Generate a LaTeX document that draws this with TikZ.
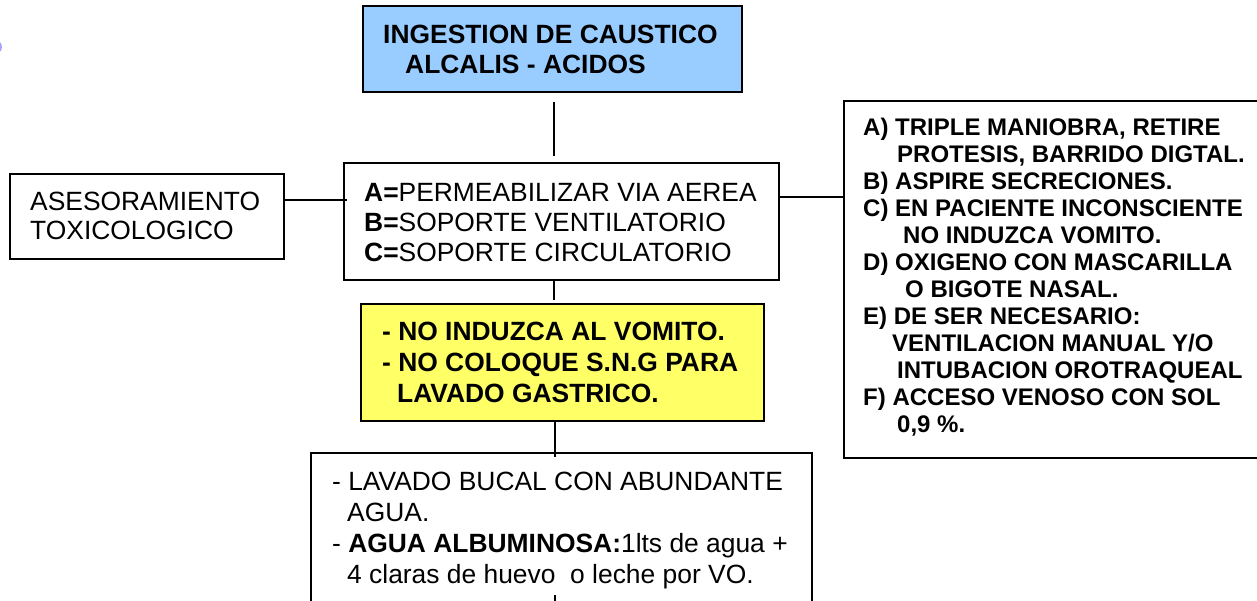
\documentclass[tikz,border=0pt]{standalone}
\usepackage{fontspec}
\setmainfont{Liberation Sans}
\usetikzlibrary{calc}
\definecolor{boxblue}{RGB}{153,204,255}
\definecolor{boxyellow}{RGB}{255,255,102}
\definecolor{markblue}{RGB}{165,165,250}
\begin{document}
\begin{tikzpicture}[x=1pt,y=-1pt,
  box/.style={draw=black, line width=1.8pt, rectangle, inner sep=0pt, anchor=north west},
  txt/.style={anchor=north west, inner sep=0pt, align=left, font=\fontsize{26.4}{30}\selectfont},
  btxt/.style={anchor=north west, inner sep=0pt, align=left, font=\fontsize{26.4}{30}\selectfont\bfseries},
  rtxt/.style={anchor=north west, inner sep=0pt, align=left, font=\fontsize{24}{27}\selectfont\bfseries},
  link/.style={draw=black, line width=1.6pt}]
\useasboundingbox (0,0) rectangle (1257,601);
\clip (0,0) rectangle (1257,601);
\fill[white] (0,0) rectangle (1257,601);
% small clipped mark at left edge
\fill[markblue] (-6,47) ellipse (8pt and 7.5pt);
% boxes
\node[box, fill=boxblue, minimum width=379pt, minimum height=86pt] (top) at (362,5) {};
\node[box, minimum width=435pt, minimum height=117pt] (abc) at (343,162) {};
\node[box, minimum width=274pt, minimum height=85pt] (left) at (9,173) {};
\node[box, fill=boxyellow, minimum width=403pt, minimum height=117pt] (yel) at (360,303) {};
\node[box, minimum width=501pt, minimum height=200pt] (bot) at (310,452) {};
\node[box, minimum width=500pt, minimum height=357pt] (right) at (843,100) {};
% texts
\node[btxt] (toptxt) at (383,25) {INGESTION DE CAUSTICO\\\hspace*{22pt}ALCALIS - ACIDOS};
\node[txt] (abctxt) at (364,183) {\textbf{A=}PERMEABILIZAR VIA AEREA\\\textbf{B=}SOPORTE VENTILATORIO\\\textbf{C=}SOPORTE CIRCULATORIO};
\node[txt, font=\fontsize{26.4}{28.5}\selectfont] (lefttxt) at (30,192) {ASESORAMIENTO\\TOXICOLOGICO};
\node[btxt, font=\fontsize{26.4}{31}\selectfont\bfseries] (yeltxt) at (382,322) {- NO INDUZCA AL VOMITO.\\- NO COLOQUE S.N.G PARA\\\hspace*{15pt}LAVADO GASTRICO.};
\node[txt, font=\fontsize{26.4}{31}\selectfont] (bottxt) at (332,472) {- LAVADO BUCAL CON ABUNDANTE\\\hspace*{15pt}AGUA.\\- \textbf{AGUA ALBUMINOSA:}1lts de agua +\\\hspace*{15pt}4 claras de huevo\ \ o leche por VO.};
\node[rtxt] (righttxt) at (863,118) {A) TRIPLE MANIOBRA, RETIRE\\
\hspace*{34pt}PROTESIS, BARRIDO DIGTAL.\\
B) ASPIRE SECRECIONES.\\
C) EN PACIENTE INCONSCIENTE\\
\hspace*{40pt}NO INDUZCA VOMITO.\\
D) OXIGENO CON MASCARILLA\\
\hspace*{42pt}O BIGOTE NASAL.\\
E) DE SER NECESARIO:\\
\hspace*{29pt}VENTILACION MANUAL Y/O\\
\hspace*{34pt}INTUBACION OROTRAQUEAL\\
F) ACCESO VENOSO CON SOL\\
\hspace*{34pt}0,9 \%.};
% connectors
\coordinate (cx1) at (554,0);
\coordinate (cx2) at (555,0);
\coordinate (cy1) at (0,200);
\coordinate (cy2) at (0,197);
\coordinate (stub) at (555,595);
\draw[link, shorten <=9pt, shorten >=6pt] (top.south -| cx1) -- (abc.north -| cx1);
\draw[link, shorten >=3pt] (abc.south -| cx1) -- (yel.north -| cx1);
\draw[link] (yel.south -| cx2) -- ($(bot.north -| cx2)+(0,5)$);
\draw[link] (left.east |- cy1) -- ($(abc.west |- cy1)+(4,0)$);
\draw[link] (abc.east |- cy2) -- (right.west |- cy2);
\draw[link] (stub) -- (bot.south -| stub);
\end{tikzpicture}
\end{document}
